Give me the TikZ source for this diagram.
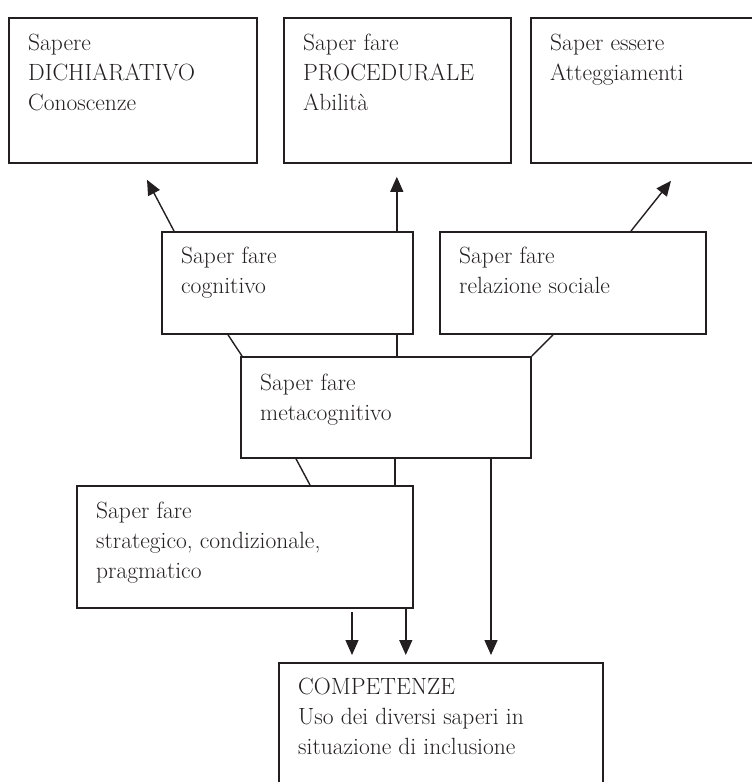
\documentclass[tikz,border=0pt]{standalone}
\usepackage{fontspec}
\usetikzlibrary{arrows.meta,positioning,calc}
\definecolor{ink}{HTML}{231F20}

\begin{document}
\begin{tikzpicture}
      [x = 1pt, y = 1pt,
      box/.style= {
         draw = ink,
         line width = 1.8pt,
         inner sep = 0pt,
         anchor = north west
      },
      txt/.style= {
         anchor = base west,
         align = left,
         inner sep = 0pt,
         text = ink,
         font = \fontsize{23.5}{30}\selectfont
      },
      link/.style= {draw = ink, line width = 1.4pt},
      arr/.style= {link, -{Triangle[length=15pt, width=13pt]}}]

      \useasboundingbox (0, 0) rectangle (752, -782);
      \clip (0, 0) rectangle (752, -782);

      % boxes
      \node[box, minimum width = 248pt, minimum height = 145pt] (dich) at (8, -17) {};
      \node[box, minimum width = 227pt, minimum height = 145pt] (proc) at (283, -17) {};
      \node[box, minimum width = 240pt, minimum height = 145pt] (ess) at (530, -17) {};
      \node[box, minimum width = 251pt, minimum height = 102pt] (cogn) at (161, -231) {};
      \node[box, minimum width = 266pt, minimum height = 102pt] (soc) at (439, -231) {};
      \node[box, minimum width = 290pt, minimum height = 101pt] (meta) at (240, -356) {};
      \node[box, minimum width = 336pt, minimum height = 122pt] (strat) at (76, -485) {};
      \node[box, minimum width = 324pt, minimum height = 140pt] (comp) at (278, -662) {};

      % texts (base = last line)
      \node[txt] (dich-t) at ([shift = {(20, -93)}] dich.north west) {Sapere\\DICHIARATIVO\\Conoscenze};
      \node[txt] (proc-t) at ([shift = {(20, -93)}] proc.north west) {Saper fare\\PROCEDURALE\\Abilità};
      \node[txt] (ess-t) at ([shift = {(20, -63)}] ess.north west) {Saper essere\\Atteggiamenti};
      \node[txt] (cogn-t) at ([shift = {(20, -62)}] cogn.north west) {Saper fare\\cognitivo};
      \node[txt] (soc-t) at ([shift = {(20, -62)}] soc.north west) {Saper fare\\relazione sociale};
      \node[txt] (meta-t) at ([shift = {(20, -64)}] meta.north west) {Saper fare\\metacognitivo};
      \node[txt] (strat-t) at ([shift = {(20, -93)}] strat.north west) {Saper fare\\strategico, condizionale,\\pragmatico};
      \node[txt] (comp-t) at ([shift = {(20, -92)}] comp.north west) {COMPETENZE\\Uso dei diversi saperi in\\situazione di inclusione};

      % upward arrows
      \draw[arr] ([xshift = 13pt] cogn.north west) -- ([shift = {(139, -16)}] dich.south west);
      \draw[arr, shorten > = 13pt] ([xshift = -17pt] cogn.north east) -- ([xshift = -17pt] cogn.north east |- proc.south);
      \draw[arr] ([xshift = 192pt] soc.north west) -- ([shift = {(141, -17)}] ess.south west);

      % links
      \draw[link] ([xshift = 67pt] cogn.south west) -- ([xshift = 2pt] meta.north west);
      \draw[link] ([xshift = -17pt] cogn.south east) -- ([xshift = -17pt] cogn.south east |- meta.north);
      \draw[link] ([xshift = 114pt] soc.south west) -- (meta.north east);
      \draw[link] ([xshift = 56pt] meta.south west) -- ([xshift = 234pt] strat.north west);
      \draw[link] ([xshift = 155pt] meta.south west) -- ([xshift = 155pt] meta.south west |- strat.north);

      % downward arrows
      \draw[arr, shorten > = 7pt] ([xshift = 251pt] meta.south west) -- ([xshift = 251pt] meta.south west |- comp.north);
      \draw[arr, shorten < = 3pt, shorten > = 7pt] ([xshift = 276pt] strat.south west) -- ([xshift = 276pt] strat.south west |- comp.north);
      \draw[arr, shorten > = 7pt] ([xshift = -8pt] strat.south east) -- ([xshift = -8pt] strat.south east |- comp.north);

   \end{tikzpicture}
\end{document}
